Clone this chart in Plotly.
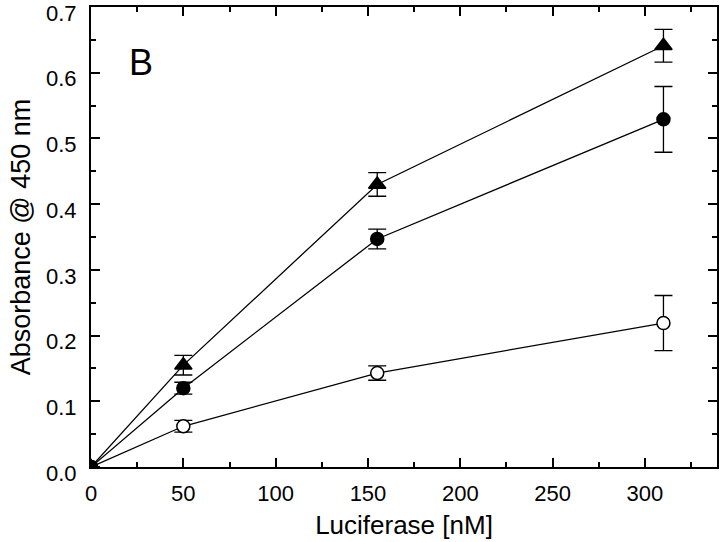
import plotly.graph_objects as go

x_vals = [0, 50, 155, 310]
tri_y = [0, 0.155, 0.43, 0.641]
tri_err = [0, 0.015, 0.018, 0.025]
fill_y = [0, 0.12, 0.347, 0.529]
fill_err = [0, 0.009, 0.015, 0.05]
open_y = [0, 0.062, 0.143, 0.219]
open_err = [0, 0.009, 0.011, 0.042]

x_ticks = [0, 50, 100, 150, 200, 250, 300]
y_ticks = [0, 0.1, 0.2, 0.3, 0.4, 0.5, 0.6, 0.7]
y_tick_text = ["0.0", "0.1", "0.2", "0.3", "0.4", "0.5", "0.6", "0.7"]

FONT = "Liberation Sans, Arial, Helvetica, sans-serif"

fig = go.Figure()

def add(y, err, symbol, fill):
    fig.add_trace(go.Scatter(
        x=x_vals, y=y, mode="lines+markers",
        line=dict(color="black", width=1.3),
        marker=dict(symbol=symbol, size=15 if "triangle" in symbol else 13,
                    color=fill, line=dict(color="black", width=1.5)),
        error_y=dict(type="data", array=err, visible=True, color="black",
                     thickness=1.3, width=9),
        showlegend=False,
    ))

add(open_y, open_err, "circle", "white")
add(fill_y, fill_err, "circle", "black")
add(tri_y, tri_err, "triangle-up", "black")

axis_common = dict(
    showline=True, linecolor="black", linewidth=2, mirror="ticks",
    ticks="inside", ticklen=9, tickwidth=2, tickcolor="black",
    showgrid=False, zeroline=False, ticklabeloverflow="allow",
    tickfont=dict(family=FONT, size=22, color="black"),
)

fig.update_xaxes(range=[0, 339], tickvals=x_ticks,
                 minor=dict(ticks="inside", ticklen=5, tickwidth=2, tickcolor="black",
                            tickvals=[25, 75, 125, 175, 225, 275, 325]),
                 ticklabelstandoff=6,
                 title=dict(text="Luciferase [nM]", font=dict(family=FONT, size=26, color="black"), standoff=10),
                 **axis_common)
fig.update_yaxes(range=[0, 0.7], tickvals=y_ticks, ticktext=y_tick_text,
                 minor=dict(ticks="inside", ticklen=5, tickwidth=2, tickcolor="black",
                            tickvals=[0.05, 0.15, 0.25, 0.35, 0.45, 0.55, 0.65]),
                 ticklabelstandoff=8, ticklabelshift=6,
                 title=dict(text="Absorbance @ 450 nm", font=dict(family=FONT, size=27, color="black"), standoff=8),
                 **axis_common)

fig.add_annotation(x=27, y=0.615, xref="x", yref="y", text="B",
                   showarrow=False, font=dict(family=FONT, size=36, color="black"))

fig.update_layout(
    width=720, height=542,
    margin=dict(l=91, r=3, t=7, b=75, autoexpand=False),
    plot_bgcolor="white", paper_bgcolor="white",
)

fig.write_html("out.html", config={"displayModeBar": False},
               post_script="document.body.style.margin='0px';")
